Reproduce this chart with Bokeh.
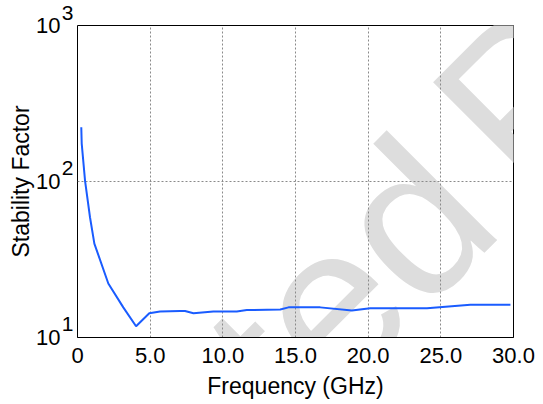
import math
from bokeh.plotting import figure
from bokeh.models import Range1d, FixedTicker, CustomJSTickFormatter, Label, LogAxis
from bokeh.embed import file_html
from bokeh.resources import INLINE

# ---- data ----
freq_ghz = [0.26, 0.29, 0.52, 0.86, 1.16, 2.12, 3.15, 4.03, 4.94, 5.68, 7.06,
            7.40, 7.98, 9.35, 10.96, 11.65, 13.95, 14.52, 16.70, 18.88, 20.14,
            24.05, 27.03, 29.79]
stability = [223, 175, 101, 59, 40, 22.2, 15.6, 11.8, 14.3, 14.7, 14.8,
             14.8, 14.3, 14.7, 14.7, 15.0, 15.1, 15.6, 15.6, 14.9, 15.4,
             15.4, 16.2, 16.2]

x_ticks = [0, 5, 10, 15, 20, 25, 30]
y_ticks = [10, 100, 1000]

FONT = "Liberation Sans"

p = figure(width=543, height=404, y_axis_type="log",
           x_range=Range1d(0, 30), y_range=Range1d(10, 1000),
           output_backend="svg", toolbar_location=None,
           min_border_left=77, min_border_right=30,
           min_border_top=25, min_border_bottom=67)
p.background_fill_color = "white"
p.border_fill_color = "white"
p.outline_line_color = "black"
p.outline_line_width = 1
p.outline_line_alpha = 1

# grid
p.xgrid.ticker = FixedTicker(ticks=x_ticks)
p.ygrid.ticker = FixedTicker(ticks=y_ticks)
for g in (p.xgrid, p.ygrid):
    g.grid_line_color = "#8a8a8a"
    g.grid_line_dash = "2 2"
    g.grid_line_width = 1
p.xgrid.minor_grid_line_color = None
p.ygrid.minor_grid_line_color = None

# x axis
xa = p.xaxis[0]
xa.ticker = FixedTicker(ticks=x_ticks)
xa.formatter = CustomJSTickFormatter(code="return tick == 0 ? '0' : tick.toFixed(1);")
xa.major_label_text_font = FONT
xa.major_label_text_font_size = "22px"
xa.major_label_text_color = "black"
xa.major_label_standoff = 4
xa.major_tick_line_color = None
xa.minor_tick_line_color = None
xa.axis_line_color = "black"
xa.axis_label = "Frequency (GHz)"
xa.axis_label_text_font = FONT
xa.axis_label_text_font_size = "23px"
xa.axis_label_text_font_style = "normal"
xa.axis_label_text_color = "black"
xa.axis_label_standoff = 7

# y axis: "10" labels + title
ya = p.yaxis[0]
ya.ticker = FixedTicker(ticks=y_ticks)
ya.formatter = CustomJSTickFormatter(code="return '10';")
ya.major_label_text_font = FONT
ya.major_label_text_font_size = "22px"
ya.major_label_text_color = "black"
ya.major_label_standoff = -2
ya.major_tick_out = 0
ya.major_tick_in = 0
ya.minor_tick_out = 0
ya.minor_tick_in = 0
ya.major_tick_line_color = None
ya.minor_tick_line_color = None
ya.axis_line_color = None
ya.axis_label = "Stability Factor"
ya.axis_label_text_font = FONT
ya.axis_label_text_font_size = "23px"
ya.axis_label_text_font_style = "normal"
ya.axis_label_text_color = "black"
ya.axis_label_standoff = -1

# inner y axis carrying the raised exponents
exp_axis = LogAxis(
    ticker=FixedTicker(ticks=y_ticks),
    formatter=CustomJSTickFormatter(
        code="return String(Math.round(Math.log10(tick))) + '\\n\\u00a0';"),
    major_label_text_font=FONT, major_label_text_font_size="21px",
    major_label_text_color="black", major_label_standoff=4,
    major_tick_out=0, major_tick_in=0, minor_tick_out=0, minor_tick_in=0,
    major_tick_line_color=None, minor_tick_line_color=None,
    axis_line_color=None)
p.left = [exp_axis, ya]

# watermark (behind grid and data)
wm_kw = dict(x_units="data", y_units="data", angle=math.pi / 4,
             text_color="#dddddd", text_font_size="215px",
             text_font=FONT, text_baseline="alphabetic", level="image")
p.add_layout(Label(x=25.94, y=106.1, text="Accepted", text_align="right", **wm_kw))
p.add_layout(Label(x=27.19, y=167.6, text="Paper", text_align="left", **wm_kw))

p.line(freq_ghz, stability, line_color="#1a5cff", line_width=2)

open("out.html", "w").write(file_html(p, INLINE))
